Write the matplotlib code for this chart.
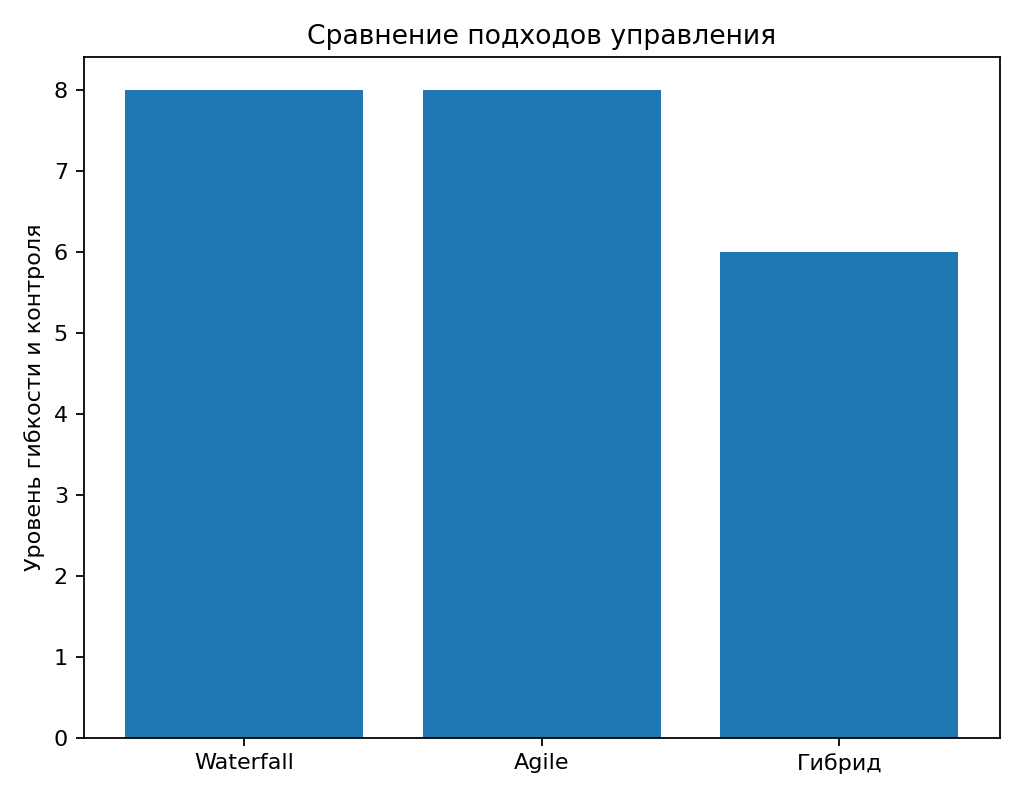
import matplotlib.pyplot as plt

approaches = ["Waterfall", "Agile", "Гибрид"]
scores = [8, 8, 6]

fig, ax = plt.subplots(figsize=(6.4, 4.9875), dpi=160)
ax.bar(approaches, scores, color="#1f77b4")
ax.set_ylabel("Уровень гибкости и контроля")
ax.set_title("Сравнение подходов управления")
fig.tight_layout()
fig.savefig("out.png")
